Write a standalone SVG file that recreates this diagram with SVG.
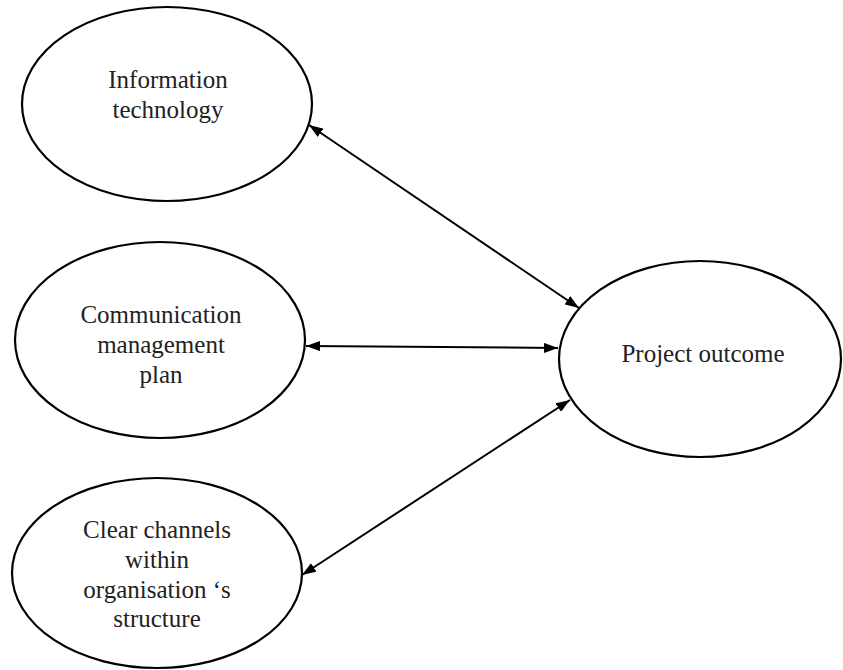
<svg xmlns="http://www.w3.org/2000/svg" width="843" height="670" viewBox="0 0 843 670">
<style>
.node ellipse{fill:#fff;stroke:#000;stroke-width:2.2}
.node text{font-family:"Liberation Serif","Times New Roman",serif;font-size:25px;fill:#222;text-anchor:middle}
.edge{stroke:#000;stroke-width:2;fill:none;marker-start:url(#ah);marker-end:url(#ah)}
</style>
<defs>
<marker id="ah" viewBox="0 0 14 10" refX="14" refY="5" markerWidth="14" markerHeight="10" markerUnits="userSpaceOnUse" orient="auto-start-reverse">
<path d="M0,0 L14,5 L0,10 Z" fill="#000"/>
</marker>
</defs>
<rect width="843" height="670" fill="#fff"/>
<g id="n-it" class="node">
<ellipse cx="167" cy="104" rx="145" ry="97"/>
<text x="168" y="88">Information</text>
<text x="168" y="118">technology</text>
</g>
<g id="n-cmp" class="node">
<ellipse cx="160" cy="340" rx="145" ry="98"/>
<text x="161" y="323">Communication</text>
<text x="161" y="353">management</text>
<text x="161" y="383">plan</text>
</g>
<g id="n-cc" class="node">
<ellipse cx="157" cy="573" rx="145" ry="95"/>
<text x="157" y="538">Clear channels</text>
<text x="157" y="568">within</text>
<text x="157" y="598">organisation ‘s</text>
<text x="157" y="627">structure</text>
</g>
<g id="n-po" class="node">
<ellipse cx="700" cy="359" rx="141" ry="98"/>
<text x="703" y="362">Project outcome</text>
</g>
<g id="edges">
<line class="edge" x1="309" y1="125" x2="579" y2="308"/>
<line class="edge" x1="306" y1="346" x2="558" y2="348"/>
<line class="edge" x1="302" y1="575" x2="570" y2="400"/>
</g>
</svg>
